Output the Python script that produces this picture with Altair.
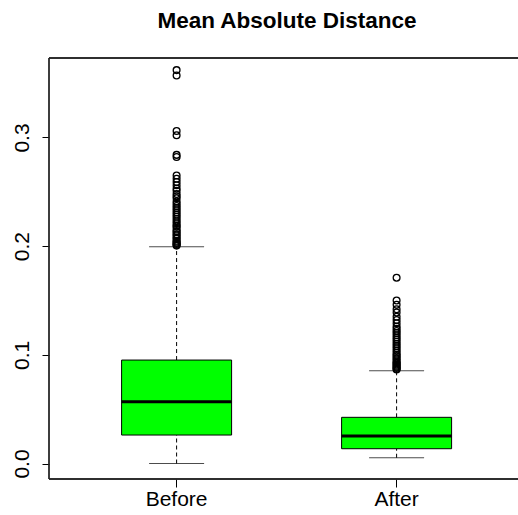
import altair as alt
import pandas as pd

groups = ["Before", "After"]
q1 = [0.0262, 0.0136]
median = [0.0569, 0.0253]
q3 = [0.0952, 0.0425]
whisker_lo = [0.0, 0.0053]
whisker_hi = [0.1995, 0.0854]

outliers_before = [0.362, 0.357, 0.306, 0.302, 0.284, 0.282, 0.265, 0.262, 0.259,
                   0.256, 0.253, 0.251, 0.248, 0.246, 0.244, 0.241, 0.239, 0.237,
                   0.235, 0.233, 0.231, 0.229, 0.227, 0.225, 0.223, 0.221, 0.219,
                   0.218, 0.216, 0.214, 0.213, 0.211, 0.210, 0.208, 0.207, 0.205,
                   0.204, 0.203, 0.202, 0.201, 0.2005]
outliers_after = [0.171, 0.150, 0.146, 0.142, 0.139, 0.135, 0.132, 0.129, 0.126,
                  0.124, 0.122, 0.120, 0.118, 0.116, 0.114, 0.112, 0.110, 0.108,
                  0.106, 0.104, 0.102, 0.100, 0.099, 0.097, 0.096, 0.094, 0.093,
                  0.092, 0.091, 0.090, 0.089, 0.088, 0.087, 0.0865]

stats = pd.DataFrame({"group": groups, "q1": q1, "median": median, "q3": q3,
                      "lo": whisker_lo, "hi": whisker_hi})
out = pd.DataFrame({
    "group": ["Before"] * len(outliers_before) + ["After"] * len(outliers_after),
    "value": outliers_before + outliers_after,
})

FONT = "Liberation Sans"
W, H = 468, 421
xscale = alt.Scale(domain=groups, range=[0, 475.2], paddingInner=0, paddingOuter=0.08)
yscale = alt.Scale(domain=[-0.01426, 0.37315], nice=False, zero=False)

x = alt.X("group:N", scale=xscale, sort=groups,
          axis=alt.Axis(title=None, labelAngle=0, labelFontSize=21, labelFont=FONT,
                        labelColor="black", tickColor="black", tickSize=8,
                        domain=False, labelPadding=1))
y_axis = alt.Axis(title=None, values=[0, 0.1, 0.2, 0.3], format=".1f", labelAngle=270,
                  labelAlign="center", labelBaseline="bottom", labelFontSize=21,
                  labelFont=FONT, labelColor="black", tickColor="black", tickSize=7,
                  domain=False, grid=False, labelPadding=10)

base = alt.Chart(stats)

whisk_up = base.mark_rule(color="black", strokeDash=[4, 3], strokeWidth=1).encode(
    x=x, y=alt.Y("q3:Q", scale=yscale, axis=y_axis), y2="hi:Q")
whisk_dn = base.mark_rule(color="black", strokeDash=[4, 3], strokeWidth=1).encode(
    x=x, y=alt.Y("lo:Q", scale=yscale), y2="q1:Q")
cap_hi = base.mark_tick(color="black", size=55, thickness=1).encode(
    x=x, y=alt.Y("hi:Q", scale=yscale))
cap_lo = base.mark_tick(color="black", size=55, thickness=1).encode(
    x=x, y=alt.Y("lo:Q", scale=yscale))
box = base.mark_bar(width=110, fill="#00FF00", stroke="black", strokeWidth=1).encode(
    x=x, y=alt.Y("q1:Q", scale=yscale), y2="q3:Q")
med = base.mark_tick(color="black", size=110, thickness=3, opacity=1).encode(
    x=x, y=alt.Y("median:Q", scale=yscale))
pts = alt.Chart(out).mark_point(shape="circle", filled=False, color="black",
                                size=46, strokeWidth=1.3, opacity=1).encode(
    x=x, y=alt.Y("value:Q", scale=yscale))

# plot frame (right side falls outside the picture, as in the reference)
frame_style = dict(color="#222222", strokeWidth=1.3)
frame_top = alt.Chart(stats).mark_rule(**frame_style).encode(
    x=alt.value(0), x2=alt.value(W + 10), y=alt.value(0))
frame_bottom = alt.Chart(stats).mark_rule(**frame_style).encode(
    x=alt.value(0), x2=alt.value(W + 10), y=alt.value(H))
frame_left = alt.Chart(stats).mark_rule(**frame_style).encode(
    x=alt.value(0), y=alt.value(0), y2=alt.value(H))

chart = alt.layer(whisk_up, whisk_dn, cap_hi, cap_lo, box, med, pts,
                  frame_top, frame_bottom, frame_left).properties(
    width=W, height=H,
    title=alt.TitleParams("Mean Absolute Distance", fontSize=22.5, fontWeight="bold",
                          font=FONT, color="black", anchor="middle", offset=25, dx=4),
    autosize=alt.AutoSizeParams(type="none"),
    padding={"left": 49, "top": 58, "right": 1, "bottom": 36},
).configure_view(strokeWidth=0)

chart.save("out.html", embed_options={"renderer": "svg", "actions": False})
